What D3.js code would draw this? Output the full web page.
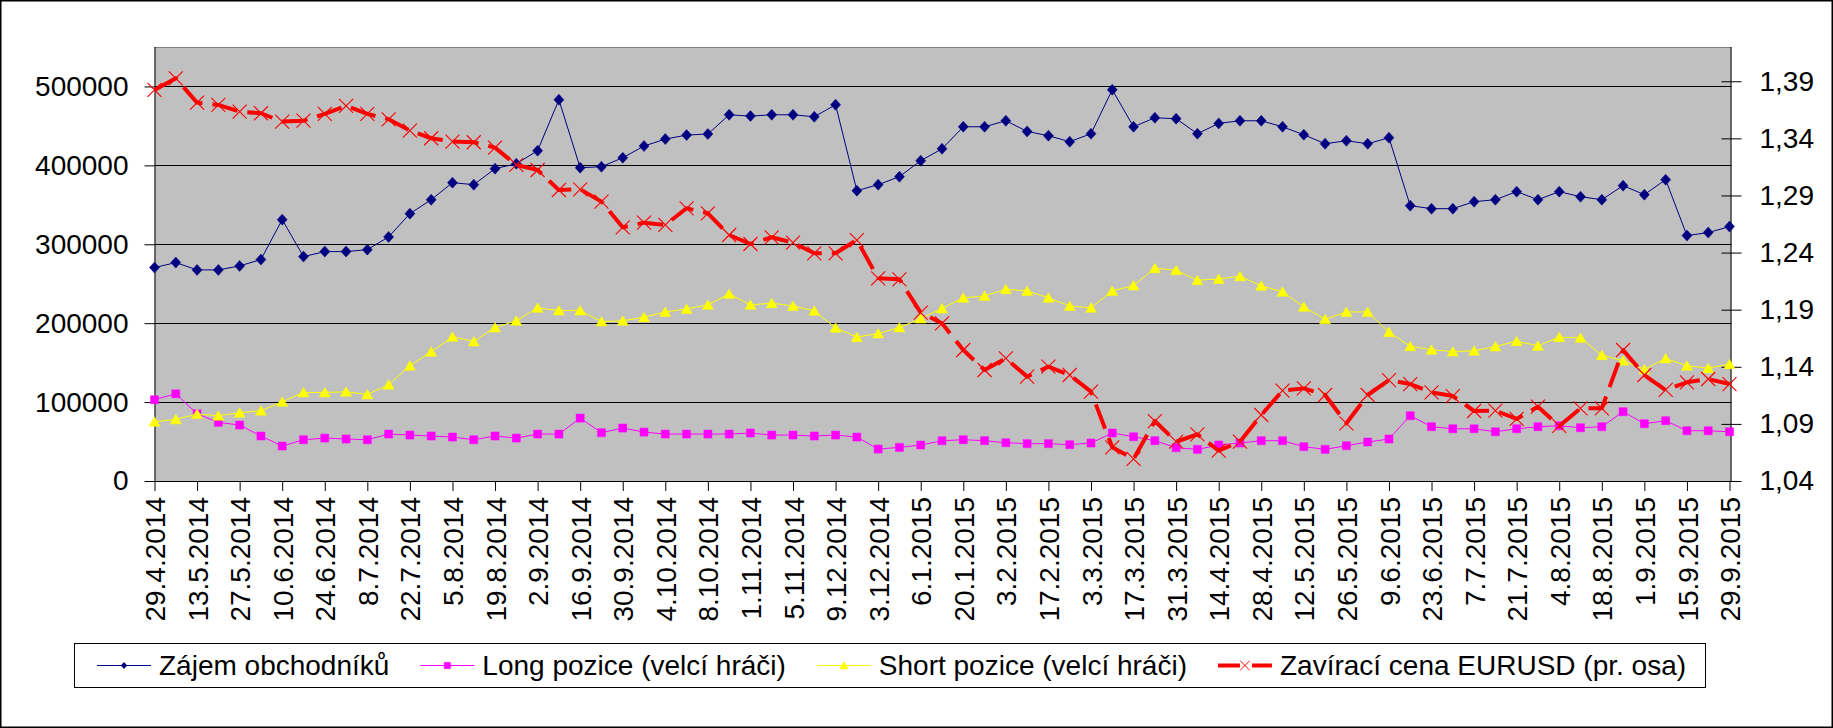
<!DOCTYPE html>
<html><head><meta charset="utf-8">
<script src="https://cdn.jsdelivr.net/npm/d3@7"></script>
<style>
html,body{margin:0;padding:0;background:#fff;}
svg{display:block;}
text{font-family:"Liberation Sans",Arial,sans-serif;}
</style></head>
<body>
<svg id="c" width="1833" height="728"></svg>
<script>
// ---- DATA ----
const categories = [
"29.4.2014","6.5.2014","13.5.2014","20.5.2014","27.5.2014","3.6.2014","10.6.2014","17.6.2014","24.6.2014","1.7.2014",
"8.7.2014","15.7.2014","22.7.2014","29.7.2014","5.8.2014","12.8.2014","19.8.2014","26.8.2014","2.9.2014","9.9.2014",
"16.9.2014","23.9.2014","30.9.2014","7.10.2014","14.10.2014","21.10.2014","28.10.2014","4.11.2014","11.11.2014","18.11.2014",
"25.11.2014","2.12.2014","9.12.2014","16.12.2014","23.12.2014","30.12.2014","6.1.2015","13.1.2015","20.1.2015","27.1.2015",
"3.2.2015","10.2.2015","17.2.2015","24.2.2015","3.3.2015","10.3.2015","17.3.2015","24.3.2015","31.3.2015","7.4.2015",
"14.4.2015","21.4.2015","28.4.2015","5.5.2015","12.5.2015","19.5.2015","26.5.2015","2.6.2015","9.6.2015","16.6.2015",
"23.6.2015","30.6.2015","7.7.2015","14.7.2015","21.7.2015","28.7.2015","4.8.2015","11.8.2015","18.8.2015","25.8.2015",
"1.9.2015","8.9.2015","15.9.2015","22.9.2015","29.9.2015"];

// tick labels as displayed (every second week)
const tickLabels = ["29.4.2014","13.5.2014","27.5.2014","10.6.2014","24.6.2014","8.7.2014","22.7.2014","5.8.2014","19.8.2014","2.9.2014",
"16.9.2014","30.9.2014","4.10.2014","8.10.2014","1.11.2014","5.11.2014","9.12.2014","3.12.2014","6.1.2015","20.1.2015",
"3.2.2015","17.2.2015","3.3.2015","17.3.2015","31.3.2015","14.4.2015","28.4.2015","12.5.2015","26.5.2015","9.6.2015",
"23.6.2015","7.7.2015","21.7.2015","4.8.2015","18.8.2015","1.9.2015","15.9.2015","29.9.2015"];

const zajem = [
270500,276800,267500,267500,272600,280600,331200,284400,290700,290700,
293200,309300,338800,356500,378100,375500,395800,402100,418600,483100,
397000,398300,409700,424500,433300,438400,439700,464100,462400,464100,
464100,461600,476800,367900,375500,385700,405900,421000,448900,448900,
456500,443000,437600,430000,440100,495800,448900,460300,459100,440100,
453200,456500,456500,448900,438800,427400,431200,427400,435000,348900,
345100,345100,354000,356500,366700,356500,366700,360300,356500,374300,
362900,381900,311000,314800,322400];

const longPoz = [
103000,110500,85200,74300,70900,57000,44300,52300,54400,53200,
52300,59500,58200,57000,55700,52300,57000,54400,59500,59500,
79700,61200,67100,62000,59500,59500,59500,59500,60800,58200,
58200,57000,58200,55700,40500,42600,45600,51000,52300,51100,
48500,47300,47300,46000,48100,60800,56100,51100,42200,40100,
45600,48100,51100,51100,43500,40100,44700,49400,53200,82700,
68800,66200,66200,62400,66200,68800,70000,67500,68800,87800,
72600,76400,63700,63700,62400];

const shortPoz = [
75100,78100,84800,82700,86500,89000,100400,112200,112200,113100,
109700,121900,146000,163700,182700,176800,194500,203000,219400,216000,
216000,202100,203000,207600,214300,218100,223200,237100,223200,225300,
221900,215600,194100,182300,186900,194500,205900,218600,232100,234600,
243000,240900,232100,221900,219400,240900,247700,269600,267100,254400,
256100,259500,247300,239700,220700,205100,214300,214300,188600,170900,
166200,164100,165000,170500,177200,171300,182300,181400,159500,152300,
141400,155300,146000,143000,148100];

const eurusd = [
1.3824,1.3926,1.3713,1.3693,1.3634,1.3620,1.3547,1.3555,1.3614,1.3684,
1.3614,1.3567,1.3468,1.3401,1.3372,1.3366,1.3319,1.3167,1.3123,1.2948,
1.2954,1.2846,1.2621,1.2662,1.2642,1.2788,1.2744,1.2554,1.2475,1.2534,
1.2487,1.2394,1.2394,1.2510,1.2175,1.2166,1.1874,1.1781,1.1547,1.1372,
1.1474,1.1314,1.1401,1.1328,1.1182,1.0695,1.0593,1.0925,1.0744,1.0809,
1.0666,1.0744,1.0978,1.1191,1.1211,1.1153,1.0905,1.1153,1.1284,1.1249,
1.1176,1.1144,1.1013,1.1016,1.0943,1.1051,1.0882,1.1036,1.1036,1.1547,
1.1328,1.1197,1.1264,1.1293,1.1249];

const leftTicks = [0,100000,200000,300000,400000,500000];
const rightTicks = [1.04,1.09,1.14,1.19,1.24,1.29,1.34,1.39];
const seriesNames = ["Zájem obchodníků","Long pozice (velcí hráči)","Short pozice (velcí hráči)","Zavírací cena EURUSD (pr. osa)"];

// ---- LAYOUT ----
const W = 1833, H = 728;
const PL = 154.5, PR = 1731.5, PT = 47, PB = 481;
const FONT = 28;

const svg = d3.select("#c");
svg.append("rect").attr("x",0).attr("y",0).attr("width",W).attr("height",H).attr("fill","#fff");
svg.append("rect").attr("x",0.75).attr("y",0.75).attr("width",W-1.5).attr("height",H-1.5)
   .attr("fill","none").attr("stroke","#000").attr("stroke-width",1.5);

const x = d3.scalePoint().domain(categories).range([PL, 1729.5]);
const yL = d3.scaleLinear().domain([0,550000]).range([PB, PT]);
const yR = d3.scaleLinear().domain([1.04,1.42]).range([PB, PT]);

// plot area
svg.append("rect").attr("x",PL).attr("y",PT).attr("width",PR-PL).attr("height",PB-PT).attr("fill","#C0C0C0");
svg.append("line").attr("x1",PL).attr("x2",PR).attr("y1",PT+0.5).attr("y2",PT+0.5).attr("stroke","#808080").attr("stroke-width",1);

// gridlines
svg.append("g").selectAll("line").data(leftTicks.filter(d=>d>0)).join("line")
  .attr("x1",PL).attr("x2",PR)
  .attr("y1",d=>Math.round(yL(d))+0.5).attr("y2",d=>Math.round(yL(d))+0.5)
  .attr("stroke","#000").attr("stroke-width",1);

// left axis
const gL = svg.append("g").attr("transform",`translate(${PL},0)`)
  .call(d3.axisLeft(yL).tickValues(leftTicks).tickSize(10).tickSizeOuter(0).tickPadding(16).tickFormat(d3.format("d")));
gL.select(".domain").attr("d",`M0.5,${PT}V${PB}`).attr("stroke","#000");
gL.selectAll("text").attr("font-size",FONT).attr("fill","#000").attr("font-family","Liberation Sans, Arial, sans-serif");

// right axis
const gR = svg.append("g").attr("transform",`translate(${PR},0)`)
  .call(d3.axisRight(yR).tickValues(rightTicks).tickSize(10).tickSizeOuter(0).tickPadding(18)
        .tickFormat(d=>d.toFixed(2).replace(".",",")));
gR.select(".domain").attr("d",`M-0.5,${PT}V${PB}`).attr("stroke","#000");
gR.selectAll(".tick line").attr("x1",-10).attr("x2",10);
gR.selectAll("text").attr("font-size",FONT).attr("fill","#000").attr("font-family","Liberation Sans, Arial, sans-serif");

// bottom axis
const tickCats = categories.filter((d,i)=>i%2===0);
const gB = svg.append("g").attr("transform",`translate(0,${PB})`)
  .call(d3.axisBottom(x).tickValues(tickCats).tickSize(10).tickSizeOuter(0)
        .tickFormat((d,i)=>tickLabels[i]));
gB.select(".domain").attr("d",`M${PL},0.5H${PR}`).attr("stroke","#000");
gB.selectAll("text").attr("font-size",FONT).attr("fill","#000").attr("font-family","Liberation Sans, Arial, sans-serif")
  .attr("transform","rotate(-90)").attr("text-anchor","end")
  .attr("x",-16).attr("y",0).attr("dy","0.36em");

// ---- SERIES ----
const idx = d3.range(categories.length);
const diamond = "M0,-5.5L5,0L0,5.5L-5,0Z";
const square = "M-4,-4H4V4H-4Z";
const triangle = "M0,-5L5.5,4.5L-5.5,4.5Z";
const cross = "M-7,-7L7,7M-7,7L7,-7";

function drawSeries(arr, color, shape, yScale, opts){
  const g = svg.append("g");
  g.append("path").datum(idx)
    .attr("d", d3.line().x(i=>x(categories[i])).y(i=>yScale(arr[i])))
    .attr("fill","none").attr("stroke",color)
    .attr("stroke-width",opts.width).attr("stroke-dasharray",opts.dash||null)
    .attr("stroke-linejoin","round");
  g.selectAll("path.m").data(idx).join("path").attr("class","m")
    .attr("transform",i=>`translate(${x(categories[i])},${yScale(arr[i])})`)
    .attr("d",shape)
    .attr("fill",opts.markerFill ? color : "none")
    .attr("stroke",color).attr("stroke-width",opts.markerStroke||0.5);
}
drawSeries(zajem, "#000080", diamond, yL, {width:1, markerFill:true});
drawSeries(longPoz, "#FF00FF", square, yL, {width:1, markerFill:true});
drawSeries(shortPoz, "#FFFF00", triangle, yL, {width:1, markerFill:true});
drawSeries(eurusd, "#FF0000", cross, yR, {width:4, dash:"26,10", markerFill:false, markerStroke:1.1});

// ---- LEGEND ----
const LX = 74.5, LY = 643, LW = 1631, LH = 44;
const lg = svg.append("g");
lg.append("rect").attr("x",LX).attr("y",LY+0.5).attr("width",LW).attr("height",LH)
  .attr("fill","#fff").attr("stroke","#000").attr("stroke-width",1);
const legendStyles = [
  {c:"#000080", shape:diamond, w:1, fill:true, s:0.6},
  {c:"#FF00FF", shape:square, w:1, fill:true, s:0.8},
  {c:"#FFFF00", shape:triangle, w:1, fill:true, s:0.8},
  {c:"#FF0000", shape:cross, w:4, fill:false, dash:"22,12", s:0.7}
];
let cx = 97;
const cy = 665.5;
seriesNames.forEach((name,k)=>{
  const st = legendStyles[k];
  lg.append("line").attr("x1",cx).attr("x2",cx+54).attr("y1",cy).attr("y2",cy)
    .attr("stroke",st.c).attr("stroke-width",st.w).attr("stroke-dasharray",st.dash||null);
  lg.append("path").attr("d",st.shape)
    .attr("transform",`translate(${cx+27},${cy}) scale(${st.s})`)
    .attr("fill",st.fill?st.c:"none").attr("stroke",st.c).attr("stroke-width",st.fill?0.5:1.4);
  const t = lg.append("text").attr("x",cx+62).attr("y",cy+9.5).attr("font-size",FONT).attr("fill","#000").text(name);
  cx = cx + 62 + t.node().getComputedTextLength() + 31;
});
</script>
</body></html>
